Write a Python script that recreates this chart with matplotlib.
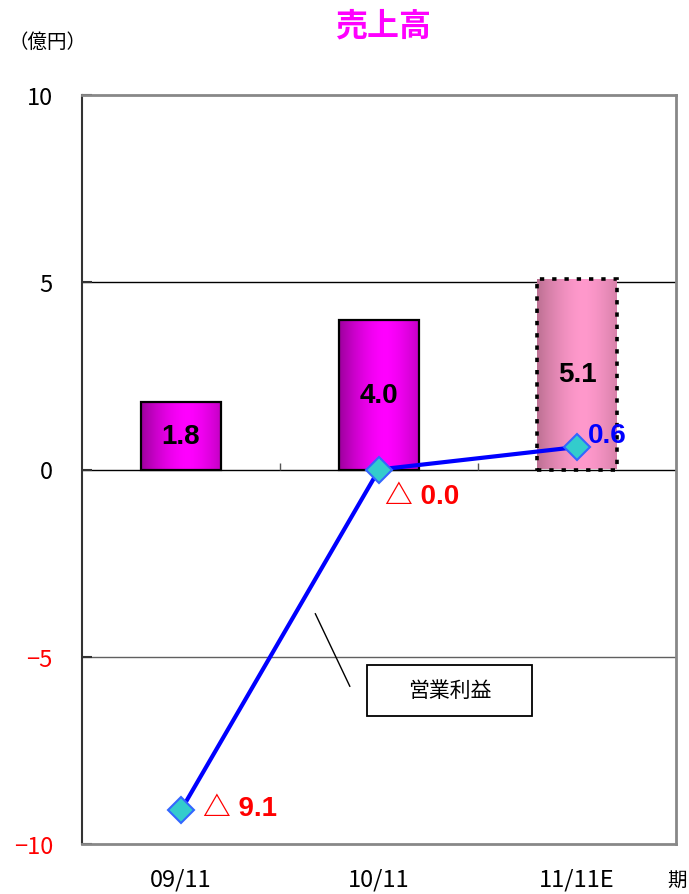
import matplotlib.pyplot as plt
import numpy as np
from matplotlib.colors import to_rgb
from matplotlib.patches import Rectangle

plt.rcParams["font.family"] = ["Noto Sans CJK JP", "DejaVu Sans"]
plt.rcParams["axes.unicode_minus"] = True

periods = ["09/11", "10/11", "11/11E"]
sales = [1.8, 4.0, 5.1]
op_profit = [-9.1, 0.0, 0.6]
op_labels = ["△ 9.1", "△ 0.0", "0.6"]
y_ticks = [10, 5, 0, -5, -10]

MAGENTA = "#ff00ff"
MAGENTA_DARK = "#9c009c"
PINK = "#ff99cc"
PINK_DARK = "#bc7092"
NUM_FONT = ["Liberation Sans", "Noto Sans CJK JP", "DejaVu Sans"]


def shade(patch, light, dark, ax):
    # horizontal cylinder-style gradient clipped to the bar
    x0, y0 = patch.get_x(), patch.get_y()
    w, h = patch.get_width(), patch.get_height()
    t = np.linspace(0, 1, 200)
    f = 1 - np.clip(np.abs(t - 0.58) / 0.58, 0, 1) ** 1.6
    c0, c1 = np.array(to_rgb(dark)), np.array(to_rgb(light))
    row = c0 + (c1 - c0) * f[:, None]
    img = np.tile(row[None, :, :], (2, 1, 1))
    im = ax.imshow(img, extent=[x0, x0 + w, y0, y0 + h], aspect="auto",
                   origin="lower", zorder=patch.get_zorder() - 0.1)
    im.set_clip_path(patch)


fig = plt.figure(figsize=(6.89, 8.95), dpi=100)
ax = fig.add_axes([82 / 689, 1 - 845 / 895, 594 / 689, 749 / 895])

x = np.arange(len(periods))

# gridlines
ax.axhline(5, color="black", lw=1, zorder=1)
ax.axhline(-5, color="#606060", lw=1, zorder=1)
ax.axhline(0, color="black", lw=1, zorder=1)
# category boundary ticks on the zero line
ax.vlines([0.5, 1.5], 0, 0.17, color="#555555", lw=1, zorder=1)

bars = ax.bar(x, sales, width=0.4, color="none", zorder=3)
for i, b in enumerate(bars):
    if i < 2:
        b.set_edgecolor("black")
        b.set_linewidth(1.6)
        shade(b, MAGENTA, MAGENTA_DARK, ax)
    else:
        b.set_edgecolor("black")
        b.set_linewidth(2.6)
        b.set_linestyle((0, (1.2, 2.2)))
        shade(b, PINK, PINK_DARK, ax)
    ax.text(b.get_x() + b.get_width() / 2, sales[i] / 2, f"{sales[i]:.1f}",
            ha="center", va="center", fontsize=20, fontweight="bold",
            color="black", zorder=5, family=NUM_FONT)

ax.plot(x, op_profit, color="#0000ff", lw=3, zorder=6,
        marker="D", markersize=13, markerfacecolor="#33cccc",
        markeredgecolor="#3366ff", markeredgewidth=1.5)

offsets = [(16, 2), (4, -19), (8, 9)]
colors = ["#ff0000", "#ff0000", "#0000ff"]
for xi, yi, lab, off, c in zip(x, op_profit, op_labels, offsets, colors):
    ax.annotate(lab, (xi, yi), xytext=off, textcoords="offset points",
                ha="left", va="center", fontsize=20, fontweight="bold",
                color=c, zorder=7, family=NUM_FONT)

# legend callout for operating profit
ax.annotate("", xy=(0.672, -3.78), xytext=(0.859, -5.86),
            arrowprops=dict(arrowstyle="-", lw=1, color="black"))
ax.add_patch(Rectangle((0.939, -6.58), 0.834, 1.36, facecolor="white",
                       edgecolor="black", lw=1.3, zorder=4))
ax.text(1.356, -5.90, "営業利益", ha="center", va="center", fontsize=15,
        zorder=5)

ax.set_xlim(-0.5, 2.5)
ax.set_ylim(-10, 10)
ax.set_yticks(y_ticks)
ax.set_yticklabels([str(v).replace("-", "\u2212") for v in y_ticks])
for lab, v in zip(ax.get_yticklabels(), y_ticks):
    lab.set_color("#ff0000" if v < 0 else "black")
ax.tick_params(axis="y", direction="in", length=7, width=1.5, color="#333333",
               labelsize=17, pad=21)
ax.set_xticks(x)
ax.set_xticklabels(periods, fontsize=17)
ax.tick_params(axis="x", length=0, pad=17)

ax.spines["left"].set_color("#333333")
ax.spines["left"].set_linewidth(1.5)
for s in ("top", "right", "bottom"):
    ax.spines[s].set_color("#888888")
    ax.spines[s].set_linewidth(2)

fig.text(383 / 689, 1 - 27 / 895, "売上高", ha="center", va="center",
         fontsize=23, fontweight="bold", color=MAGENTA)
fig.text(8 / 689, 1 - 42 / 895, "（億円）", ha="left", va="center", fontsize=14)
fig.text(667 / 689, 1 - 880 / 895, "期", ha="left", va="center", fontsize=14)

fig.savefig("out.png", dpi=100)
